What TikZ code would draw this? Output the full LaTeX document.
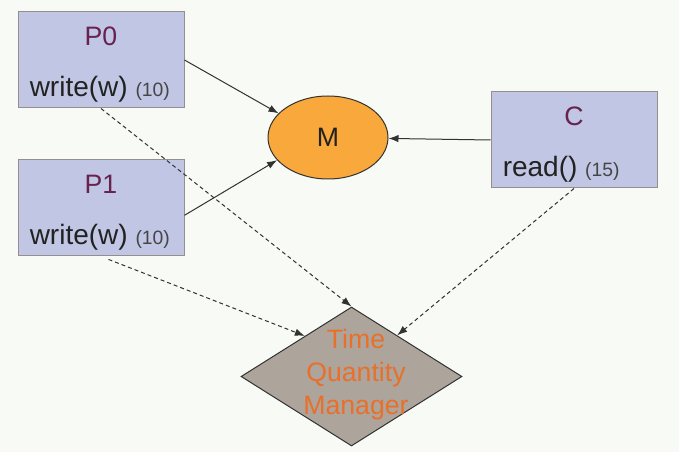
\documentclass[tikz,border=0pt]{standalone}
\usepackage{fontspec}
\setmainfont{Liberation Sans}
\usetikzlibrary{shapes.geometric,arrows.meta,positioning}
\definecolor{bgcol}{RGB}{248,251,245}
\definecolor{boxfill}{RGB}{192,198,228}
\definecolor{boxline}{RGB}{150,142,142}
\definecolor{titlecol}{RGB}{104,34,78}
\definecolor{textcol}{RGB}{34,34,34}
\definecolor{smallcol}{RGB}{70,70,70}
\definecolor{memfill}{RGB}{249,168,59}
\definecolor{mgrfill}{RGB}{173,164,155}
\definecolor{mgrtext}{RGB}{232,112,42}
\definecolor{linecol}{RGB}{50,50,50}

\begin{document}
\begin{tikzpicture}[x=0.75pt,y=-0.75pt,
  font=\fontsize{20}{24}\selectfont,
  proc/.style={draw=boxline, fill=boxfill, line width=0.75pt,
    minimum width=124.5pt, minimum height=72pt, inner sep=0pt},
  proctitle/.style={text=titlecol, inner sep=0pt},
  proccall/.style={text=textcol, inner sep=0pt, anchor=base west,
    font=\fontsize{21}{24}\selectfont},
  mem/.style={ellipse, draw=linecol, fill=memfill, line width=0.75pt,
    minimum width=90pt, minimum height=62.25pt, inner sep=0pt, text=textcol},
  mgr/.style={diamond, draw=linecol, fill=mgrfill, line width=0.75pt,
    minimum width=165.75pt, minimum height=104.25pt, inner sep=0pt},
  mgrlabel/.style={text=mgrtext, align=center, inner sep=0pt,
    font=\fontsize{20}{24.75}\selectfont},
  access/.style={draw=linecol, line width=0.75pt, -{Latex[length=7.5pt,width=5.5pt]}},
  report/.style={access, dash pattern=on 3pt off 2.25pt},
  ]
  \useasboundingbox[fill=bgcol] (0,0) rectangle (679,452);

  % processes and consumer
  \node[proc] (p0) at (101,60) {};
  \node[proc] (p1) at (101,208) {};
  \node[proc] (c) at (574,140) {};
  \node[proctitle, below=18.75pt of p0.north, anchor=center] (p0t) {P0};
  \node[proctitle, below=18.75pt of p1.north, anchor=center] (p1t) {P1};
  \node[proctitle, below=18.75pt of c.north, anchor=center] (ct) {C};
  \node[proccall] (p0w) at ([xshift=9pt,yshift=9pt]p0.south west)
    {write(w) {\color{smallcol}\fontsize{14.5}{16}\selectfont(10)}};
  \node[proccall] (p1w) at ([xshift=9pt,yshift=9pt]p1.south west)
    {write(w) {\color{smallcol}\fontsize{14.5}{16}\selectfont(10)}};
  \node[proccall] (cr) at ([xshift=9pt,yshift=9pt]c.south west)
    {read() {\color{smallcol}\fontsize{14.5}{16}\selectfont(15)}};

  % shared memory and the manager
  \node[mem] (m) at (328,137.5) {M};
  \node[mgr] (tqm) at (351.5,376.5) {};
  \node[mgrlabel] (tqml) at (356,375) {Time\\Quantity\\Manager};

  % accesses
  \path[access] (p0.east) -- (m.154);
  \path[access] (p1.-5) -- (m.204);
  \path[access] (c.west) -- (m);

  % requests to the manager
  \path[report] (p0.south) -- (tqm.north);
  \path[report, shorten <=6pt] (p1.south) -- (tqm.139);
  \path[report] (c.south) -- (tqm.42);
\end{tikzpicture}
\end{document}
